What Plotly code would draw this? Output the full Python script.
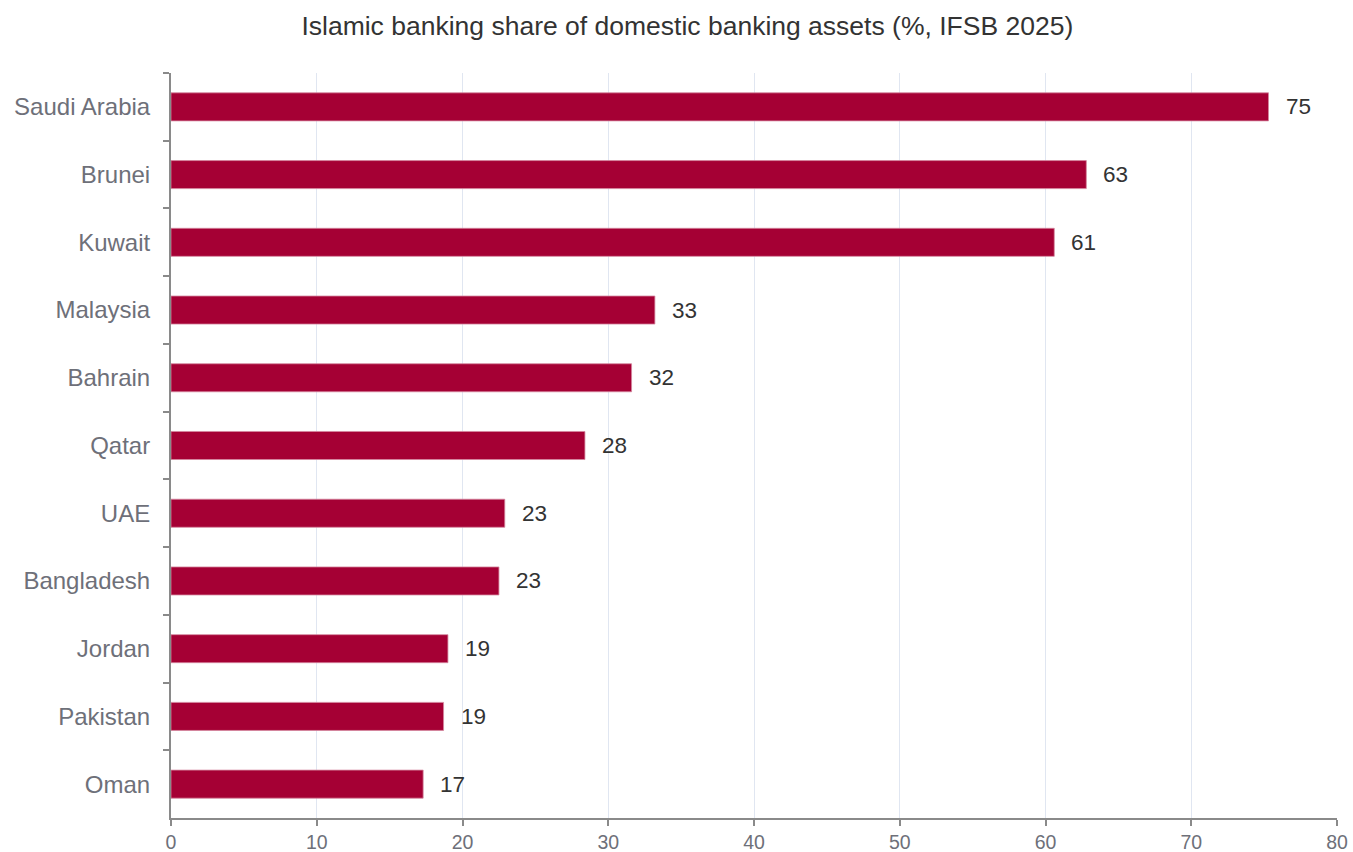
import plotly.graph_objects as go

countries = ["Saudi Arabia", "Brunei", "Kuwait", "Malaysia", "Bahrain", "Qatar",
             "UAE", "Bangladesh", "Jordan", "Pakistan", "Oman"]
shares = [75.3, 62.8, 60.6, 33.2, 31.6, 28.4, 22.9, 22.5, 19.0, 18.7, 17.3]
labels = ["75", "63", "61", "33", "32", "28", "23", "23", "19", "19", "17"]
x_ticks = [0, 10, 20, 30, 40, 50, 60, 70, 80]

FONT = "Liberation Sans, Arial, sans-serif"
AXIS = "#8a8a8a"

fig = go.Figure()
fig.add_trace(go.Bar(
    x=shares, y=countries, orientation="h",
    marker=dict(color="#A50034", line=dict(color="#d4879e", width=0.8)),
    hoverinfo="skip",
))

for c, v, t in zip(countries, shares, labels):
    fig.add_annotation(x=v, y=c, xref="x", yref="y", text=t, showarrow=False,
                       xanchor="left", yanchor="middle", xshift=15,
                       font=dict(family=FONT, size=22.5, color="#333333"))

fig.update_layout(
    width=1353, height=852,
    margin=dict(l=171, r=16, t=73, b=34, autoexpand=False),
    paper_bgcolor="white", plot_bgcolor="white",
    bargap=0.586,
    showlegend=False,
    title=dict(text="Islamic banking share of domestic banking assets (%, IFSB 2025)",
               x=0.508, xanchor="center", xref="container", y=0.97, yanchor="middle",
               font=dict(family=FONT, size=26.5, color="#333333")),
)
fig.update_xaxes(
    range=[0, 80], tickvals=x_ticks, ticktext=[str(v) for v in x_ticks],
    showgrid=True, gridcolor="#E0E6F1", gridwidth=1,
    showline=True, linecolor=AXIS, linewidth=2,
    ticks="outside", ticklen=6, tickcolor=AXIS, tickwidth=2,
    tickfont=dict(family=FONT, size=19.5, color="#6E7079"),
    zeroline=False, automargin=False,
)
fig.update_yaxes(
    categoryorder="array", categoryarray=countries, autorange="reversed",
    showgrid=False, showline=True, linecolor=AXIS, linewidth=2,
    ticks="outside", ticklen=6, tickcolor=AXIS, tickwidth=2, tickson="boundaries",
    tickfont=dict(family=FONT, size=24, color="#6E7079"),
    ticklabelstandoff=14, automargin=False,
)

fig.write_html("out.html")
